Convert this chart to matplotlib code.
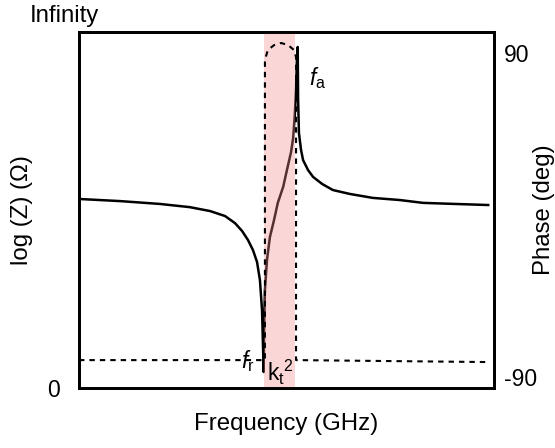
import matplotlib
matplotlib.use("Agg")
import matplotlib.pyplot as plt

plt.rcParams["font.family"] = ["Liberation Sans", "DejaVu Sans"]
plt.rcParams["mathtext.fontset"] = "custom"
plt.rcParams["mathtext.rm"] = "Liberation Sans"
plt.rcParams["mathtext.it"] = "Liberation Sans:italic"

# Impedance magnitude (log scale, arbitrary units) vs. frequency (arbitrary units)
freq = [0, 9.9, 19.5, 26.7, 31.6, 35.2, 37.6, 39.3, 40.7, 41.9, 42.9, 43.6, 44.1, 44.3, 44.5,
        44.6, 44.8, 45.3, 46.0, 47.0, 47.9, 49.2, 50.1, 51.1, 51.6, 52.0, 52.3, 52.5, 52.7,
        52.8, 53.0, 53.5, 54.0, 55.2, 56.4, 58.6, 61.2, 65.3, 70.8, 77.3, 82.9, 90.6, 98.6]
log_z = [53.1, 52.5, 51.7, 50.8, 49.7, 48.3, 46.3, 44.1, 41.6, 38.8, 35.4, 30.3, 21.9, 13.5, 4.5,
         16.3, 27.5, 36.0, 42.4, 47.2, 52.0, 56.5, 61.2, 66.3, 70.2, 76.7, 83.7, 92.1, 95.8,
         80.9, 71.6, 66.9, 64.0, 61.2, 59.3, 57.3, 55.6, 54.5, 53.4, 52.8, 52.0, 51.7, 51.4]

# Phase (deg) vs. frequency
phase_freq = [0, 44.8, 44.8, 45.5, 47.0, 48.7, 50.4, 51.8, 52.3, 52.3, 99.0]
phase_deg = [-80.6, -80.6, 86.1, 91.7, 94.4, 95.6, 94.4, 91.7, 87.8, -80.6, -81.7]

# Coupling band between resonance and anti-resonance
band = (44.5, 52.0)
phase_ticks = [90, -90]
phase_tick_labels = ["90", "-90"]

fs = 16.5
fl = 17.3
fig = plt.figure(figsize=(5.55, 4.48), dpi=100)
ax = fig.add_axes([79 / 555, 60 / 448, 415 / 555, 356 / 448])
ax.set_xlim(0, 100)
ax.set_ylim(0, 100)

ax.plot(freq, log_z, color="black", lw=1.8, zorder=2, solid_joinstyle="round")
ax.axvspan(band[0], band[1], color="#f58a8a", alpha=0.35, lw=0, zorder=3)

ax.set_xticks([])
ax.set_yticks([0])
ax.set_yticklabels(["0"], fontsize=fs)
ax.tick_params(axis="y", length=0, pad=14)
for s in ax.spines.values():
    s.set_linewidth(2.0)

ax.set_xlabel("Frequency (GHz)", fontsize=fl)
ax.xaxis.set_label_coords(0.5, -0.07)
ax.set_ylabel("log (Z) (Ω)", fontsize=fl)
ax.yaxis.set_label_coords(-0.11, 0.5)
ax.text(-0.036, 1.015, "Infinity", transform=ax.transAxes, fontsize=fl,
        ha="center", va="bottom")

ax2 = ax.twinx()
ax2.set_ylim(-96.1, 101.7)
ax2.plot(phase_freq, phase_deg, color="black", lw=1.5, ls=(0, (2.6, 2.4)), zorder=4)
ax2.set_yticks(phase_ticks)
ax2.set_yticklabels(phase_tick_labels, fontsize=fs)
ax2.tick_params(axis="y", length=0, pad=7)
ax2.set_ylabel("Phase (deg)", fontsize=fl)
ax2.yaxis.set_label_coords(1.094, 0.5)
for s in ax2.spines.values():
    s.set_linewidth(2.0)

ax.text(40.6, 7.5, r"$f_\mathrm{r}$", fontsize=fs, ha="center", va="center", zorder=5)
ax.text(48.5, 4.5, r"k$_\mathrm{t}$$^\mathrm{2}$", fontsize=fs, ha="center", va="center", zorder=5)
ax.text(57.5, 87.0, r"$f_\mathrm{a}$", fontsize=fs, ha="center", va="center", zorder=5)

fig.savefig("out.png", dpi=100)
